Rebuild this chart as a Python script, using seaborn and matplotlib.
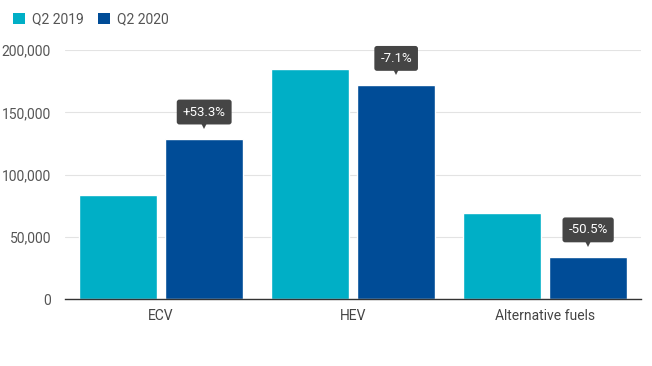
import matplotlib
matplotlib.use("Agg")
import matplotlib.pyplot as plt
import matplotlib.transforms as mtransforms
from matplotlib.patches import Patch
import seaborn as sns
import pandas as pd

categories = ["ECV", "HEV", "Alternative fuels"]
q2_2019 = [83800, 184700, 69300]
q2_2020 = [128500, 171600, 33800]
changes = ["+53.3%", "-7.1%", "-50.5%"]
series = ["Q2 2019", "Q2 2020"]
colors = ["#00AFC6", "#004C97"]

df = pd.DataFrame({
    "category": categories * 2,
    "value": q2_2019 + q2_2020,
    "series": [series[0]] * 3 + [series[1]] * 3,
})

sns.set_style("white")
plt.rcParams["font.family"] = ["Roboto", "DejaVu Sans"]

fig = plt.figure(figsize=(6.52, 3.66), dpi=100)
ax = fig.add_axes([0.0997, 0.183, 0.8833, 0.680])

sns.barplot(data=df, x="category", y="value", hue="series", palette=colors,
            width=0.9, gap=0.1, ax=ax, legend=False, saturation=1)

ax.set_ylim(0, 200000)
ax.set_xlim(-0.5, 2.5)
ax.set_yticks([0, 50000, 100000, 150000, 200000])
ax.set_yticklabels(["0", "50,000", "100,000", "150,000", "200,000"])
ax.set_xlabel("")
ax.set_ylabel("")
ax.yaxis.grid(True, color="#e3e3e3", linewidth=0.8)
ax.set_axisbelow(True)
for s in ["top", "right", "left"]:
    ax.spines[s].set_visible(False)
ax.spines["bottom"].set_color("#333333")
ax.spines["bottom"].set_linewidth(1.0)
ax.tick_params(axis="y", length=0, pad=10, labelsize=10, labelcolor="#555555")
ax.tick_params(axis="x", length=0, pad=7, labelsize=10, labelcolor="#444444")

# annotations on Q2 2020 bars
patches = sorted(ax.patches, key=lambda p: p.get_x())
bars2020 = [p for p in patches if p.get_height() > 0][1::2]
for p, label in zip(bars2020, changes):
    xc = p.get_x() + p.get_width() / 2
    top = p.get_height()
    ax.annotate(label, xy=(xc, top), xytext=(0, 19.5), textcoords="offset points",
                ha="center", va="center", color="white", fontsize=9.5,
                bbox=dict(boxstyle="round,pad=0.45,rounding_size=0.2",
                          fc="#454545", ec="none"))
    tr = mtransforms.offset_copy(ax.transData, fig=fig, x=0, y=9.5, units="points")
    ax.plot([xc], [top], marker="v", markersize=5, color="#454545",
            transform=tr, clip_on=False, markeredgewidth=0)

handles = [Patch(facecolor=c, edgecolor="none") for c in colors]
fig.legend(handles, series, loc="upper left", bbox_to_anchor=(0.0, 1.0), ncol=2,
           frameon=False, fontsize=10, handlelength=0.9, handleheight=0.9,
           handletextpad=0.5, columnspacing=1.0, labelcolor="#555555")

fig.savefig("out.png", dpi=100)
